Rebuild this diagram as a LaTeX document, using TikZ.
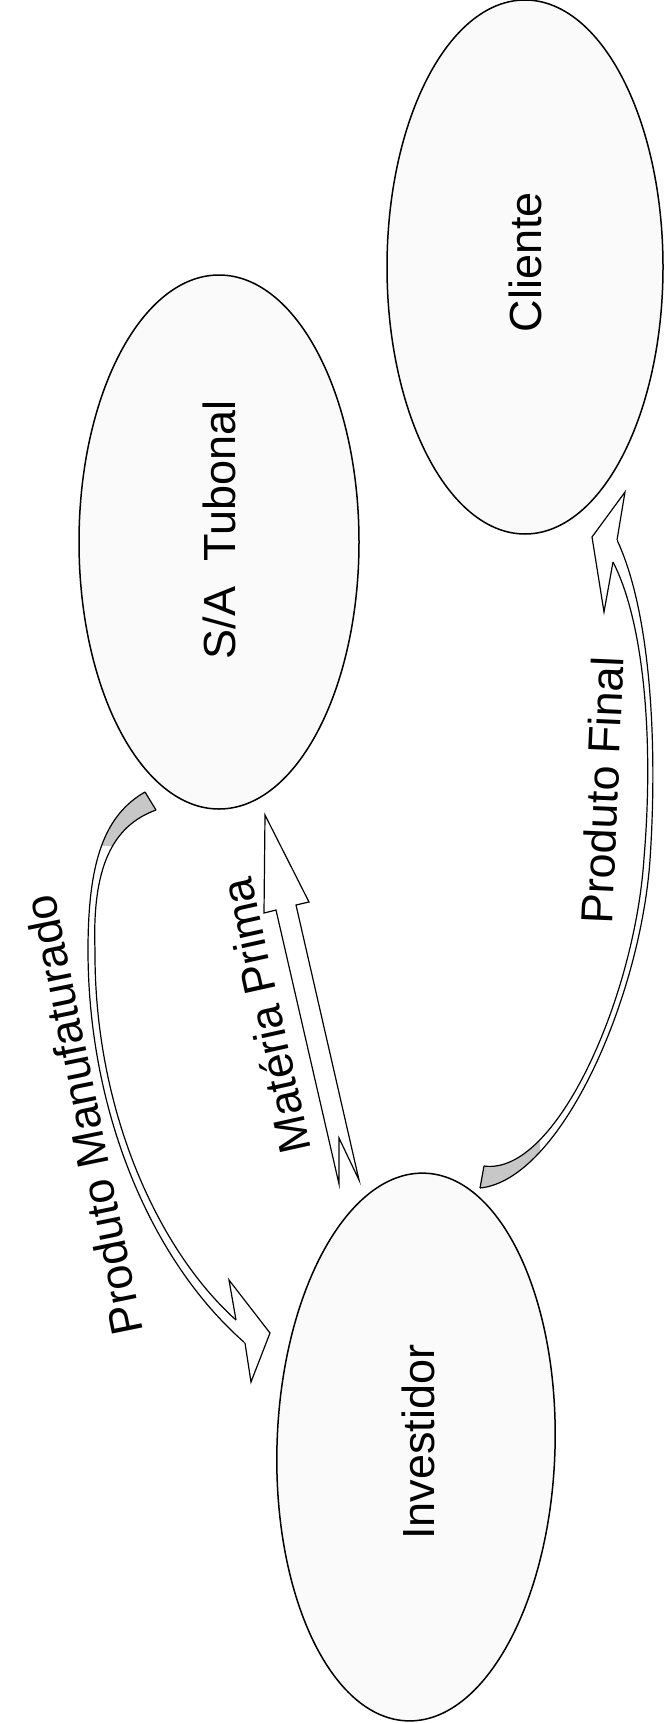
\documentclass[tikz,border=0pt]{standalone}
\usepackage{fontspec}
\setmainfont{Liberation Sans}
\usetikzlibrary{shapes.geometric}
\tikzset{
  actor/.style={ellipse, draw, line width=1.5pt, fill=black!2, inner sep=0pt},
  lbl/.style={font=\fontsize{45}{50}\selectfont, inner sep=0pt},
  arrowline/.style={draw, line width=1.2pt, line join=miter},
  bandfill/.style={fill=white},
  tailshade/.style={fill=black!22},
}
\begin{document}
\begin{tikzpicture}[x=1pt,y=-1pt]
\useasboundingbox (0,0) rectangle (665,1723);
\fill[white] (0,0) rectangle (665,1723);

% the three parties
\node[actor, minimum width=276pt, minimum height=534pt] (cli) at (525,267) {};
\node[actor, minimum width=280pt, minimum height=534pt] (tub) at (219,542) {};
\node[actor, minimum width=278pt, minimum height=548pt, rotate=-1.8] (inv) at (416,1447) {};

\node[lbl, rotate=90] (clit) at (525,262) {Cliente};
\node[lbl, rotate=90] (tubt) at (219,530) {S/A\ \ Tubonal};
\node[lbl, rotate=90] (invt) at (418,1442) {Investidor};

% Materia Prima: notched straight block arrow (Investidor -> S/A Tubonal)
\draw[arrowline, fill=white] (265,815) -- (309,902) -- (296,905) -- (359,1180)
  -- (339,1138) -- (339,1184) -- (276,910) -- (264,913) -- cycle;
\node[lbl, rotate=102.5] (mpt) at (265,1016) {Matéria Prima};

% Produto Manufaturado: curved ribbon arrow (S/A Tubonal -> Investidor)
\def\pmband{(145,792) .. controls (105,815) and (88,860) .. (88,950)
  .. controls (88,1110) and (150,1260) .. (245,1343) -- (236,1320)
  .. controls (158,1250) and (94,1110) .. (95,950)
  .. controls (92,868) and (112,826) .. (156,810) -- cycle}
\fill[bandfill] \pmband;
\begin{scope}
  \clip (60,770) rectangle (200,845);
  \fill[tailshade] \pmband;
\end{scope}
\draw[arrowline] (145,792) .. controls (105,815) and (88,860) .. (88,950)
  .. controls (88,1110) and (150,1260) .. (245,1343);
\draw[arrowline] (156,810) .. controls (112,826) and (92,868) .. (95,950)
  .. controls (94,1110) and (158,1250) .. (236,1320);
\draw[arrowline] (145,792) -- (156,810);
\fill[white] (236,1320) -- (229,1280) -- (270,1333) -- (251,1382) -- (245,1343) -- cycle;
\draw[arrowline] (236,1320) -- (229,1280) -- (270,1333) -- (251,1382) -- (245,1343);
\node[lbl, rotate=101.5] (pmt) at (83,1115) {Produto Manufaturado};

% Produto Final: curved ribbon arrow (Investidor -> Cliente)
\def\pfband{(480,1188) .. controls (560,1180) and (640,1000) .. (650,860)
  .. controls (658,740) and (650,610) .. (617,540) -- (613,562)
  .. controls (644,622) and (654,740) .. (644,858)
  .. controls (635,997) and (556,1176) .. (484,1166) -- cycle}
\fill[bandfill] \pfband;
\begin{scope}
  \clip (470,1100) rectangle (540,1200);
  \fill[tailshade] \pfband;
\end{scope}
\draw[arrowline] (480,1188) .. controls (560,1180) and (640,1000) .. (650,860)
  .. controls (658,740) and (650,610) .. (617,540);
\draw[arrowline] (484,1166) .. controls (556,1176) and (635,997) .. (644,858)
  .. controls (654,740) and (644,622) .. (613,562);
\draw[arrowline] (480,1188) -- (484,1166);
\fill[white] (617,540) -- (625,492) -- (592,537) -- (604,612) -- (613,562) -- cycle;
\draw[arrowline] (617,540) -- (625,492) -- (592,537) -- (604,612) -- (613,562);
\node[lbl, rotate=87.5] (pft) at (602,790) {Produto Final};
\end{tikzpicture}
\end{document}
